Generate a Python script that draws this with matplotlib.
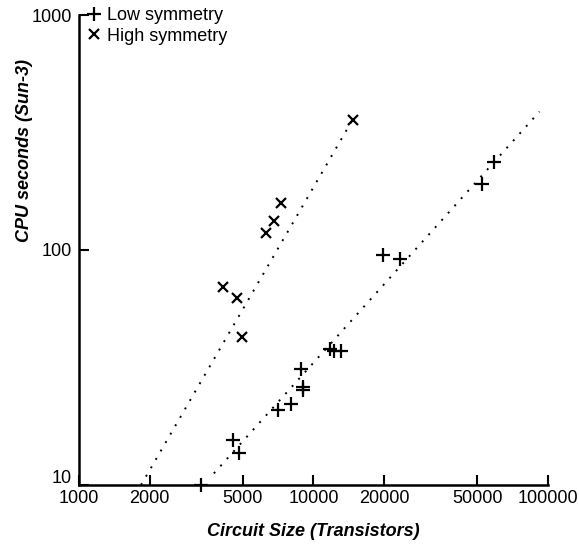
import numpy as np
import matplotlib
matplotlib.use("Agg")
import matplotlib.pyplot as plt
from matplotlib.transforms import ScaledTranslation

plt.rcParams['font.family'] = ['Liberation Sans', 'DejaVu Sans']

# Low symmetry circuits (+)
low_x = [3300, 4520, 4830, 7030, 8020, 9000, 9000, 8820, 11800, 12200, 13100,
         19700, 23400, 52200, 58900]
low_y = [10, 15.5, 13.7, 20.9, 22.1, 25.3, 26.0, 31.2, 37.8, 37.3, 37.2,
         95, 91.4, 190, 238]

# High symmetry circuits (x)
high_x = [4100, 4730, 4940, 6250, 6800, 7260, 14700]
high_y = [69.8, 62.7, 42.6, 118, 133, 159, 358]

# fitted lines (end points)
fit_low_x = [3760, 92000]
fit_low_y = [11.2, 388]
fit_high_x = [1840, 15000]
fit_high_y = [10, 372]

xticks = [1000, 2000, 5000, 10000, 20000, 50000, 100000]
yticks = [10, 100, 1000]

fig = plt.figure(figsize=(5.79, 5.44), dpi=100)
ax = fig.add_axes([0.1364, 0.1085, 0.81, 0.8639])

ax.plot(fit_low_x, fit_low_y, color='black', lw=1.4, linestyle=(0, (1, 4)))
ax.plot(fit_high_x, fit_high_y, color='black', lw=1.4, linestyle=(0, (1, 4)))

ax.plot(low_x, low_y, linestyle='none', marker='+', ms=10, mew=1.6,
        color='black', label='Low symmetry', clip_on=False)
ax.plot(high_x, high_y, linestyle='none', marker='x', ms=7, mew=1.6,
        color='black', label='High symmetry', clip_on=False)

ax.set_xscale('log')
ax.set_yscale('log')
ax.set_xlim(1000, 100000)
ax.set_ylim(10, 1000)
ax.set_xticks(xticks)
ax.set_xticklabels([str(t) for t in xticks])
ax.set_yticks(yticks)
ax.set_yticklabels([str(t) for t in yticks])
ax.minorticks_off()
ax.tick_params(direction='in', length=7, width=1.5, labelsize=13)
ax.tick_params(axis='x', pad=3.5)
ax.tick_params(axis='y', pad=5)

# the "10" label sits a little above the x axis, as in the original
lab10 = ax.get_yticklabels()[0]
lab10.set_transform(lab10.get_transform() + ScaledTranslation(0, 0.08, fig.dpi_scale_trans))

for s in ['top', 'right']:
    ax.spines[s].set_visible(False)
for s in ['left', 'bottom']:
    ax.spines[s].set_linewidth(1.8)

ax.set_xlabel('Circuit Size (Transistors)', fontsize=13, fontweight='bold',
              fontstyle='italic')
ax.set_ylabel('CPU seconds (Sun-3)', fontsize=13, fontweight='bold',
              fontstyle='italic')
ax.xaxis.set_label_coords(0.5, -0.08)
ax.yaxis.set_label_coords(-0.097, 0.711)

ax.legend(loc='upper left', frameon=False, fontsize=13, handlelength=0.8,
          handletextpad=0.3, borderpad=0.0, borderaxespad=0.0,
          labelspacing=0.2, bbox_to_anchor=(0.017, 1.017))

fig.savefig('out.png', dpi=100)
